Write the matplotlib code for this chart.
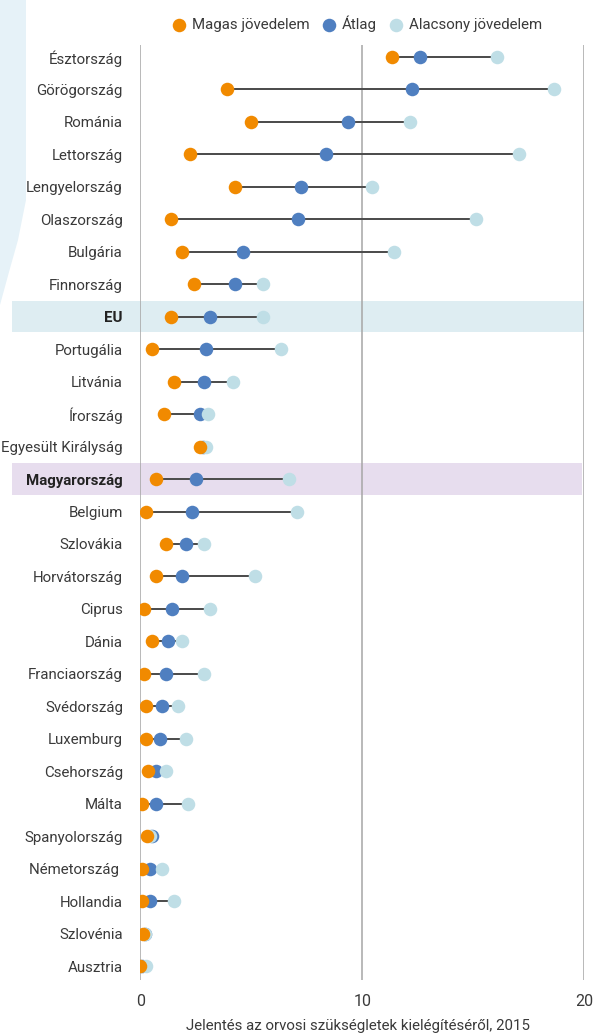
import matplotlib
matplotlib.use("Agg")
import matplotlib.pyplot as plt
import matplotlib.transforms as mtransforms
from matplotlib.patches import Rectangle, Polygon
import numpy as np

plt.rcParams['font.family'] = ['Roboto', 'DejaVu Sans']
plt.rcParams['font.weight'] = 'normal'

countries = ["Észtország", "Görögország", "Románia", "Lettország", "Lengyelország",
             "Olaszország", "Bulgária", "Finnország", "EU", "Portugália", "Litvánia",
             "Írország", "Egyesült Királyság", "Magyarország", "Belgium", "Szlovákia",
             "Horvátország", "Ciprus", "Dánia", "Franciaország", "Svédország",
             "Luxemburg", "Csehország", "Málta", "Spanyolország", "Németország ",
             "Hollandia", "Szlovénia", "Ausztria"]
high = [11.35, 3.89, 4.97, 2.25, 4.25, 1.38, 1.88, 2.43, 1.38, 0.51, 1.52, 1.05, 2.70,
        0.71, 0.24, 1.16, 0.71, 0.15, 0.53, 0.15, 0.24, 0.24, 0.33, 0.06, 0.30, 0.06,
        0.06, 0.12, 0.0]
avg = [12.62, 12.26, 9.35, 8.35, 7.26, 7.12, 4.61, 4.25, 3.16, 2.98, 2.89, 2.70, 2.82,
       2.52, 2.34, 2.07, 1.88, 1.43, 1.25, 1.16, 0.96, 0.87, 0.69, 0.71, 0.51, 0.44,
       0.44, 0.23, 0.08]
low = [16.08, 18.63, 12.17, 17.08, 10.44, 15.13, 11.43, 5.53, 5.53, 6.34, 4.16, 3.07,
       2.95, 6.70, 7.08, 2.89, 5.17, 3.16, 1.88, 2.89, 1.70, 2.06, 1.14, 2.15, 0.45,
       0.96, 1.52, 0.20, 0.24]
xticks = [0, 10, 20]
legend_labels = ["Magas jövedelem", "Átlag", "Alacsony jövedelem"]
xlabel = "Jelentés az orvosi szükségletek kielégítéséről, 2015"
highlight_eu = "EU"
highlight_hu = "Magyarország"

C_HIGH = "#F18A00"
C_AVG = "#4F7FC0"
C_LOW = "#BFDEE6"
TXT = "#3a3a3a"
FS = 10.8

W, H = 598, 1035
fig = plt.figure(figsize=(W / 100, H / 100), dpi=100)

# decorative left shape
deco = Polygon([(0, 1), (26 / W, 1), (26 / W, 1 - 200 / H), (18 / W, 1 - 240 / H),
                (9 / W, 1 - 272 / H), (0, 1 - 305 / H)],
               closed=True, transform=fig.transFigure, facecolor="#E6F2F8",
               edgecolor="none", zorder=0)
fig.patches.append(deco)

left, right = 140.3, 584.3
top, bottom = 45, 980
ax = fig.add_axes([left / W, 1 - bottom / H, (right - left) / W, (bottom - top) / H])
ax.set_facecolor("none")

n = len(countries)
y = np.arange(n)
ax.set_xlim(0, 20)
ax.set_ylim(28.43, -0.37)

trans = mtransforms.blended_transform_factory(ax.transAxes, ax.transData)
for name, col, xr in [(highlight_eu, "#DEEDF2", 584.3), (highlight_hu, "#E7DDEE", 582)]:
    i = countries.index(name)
    x0 = (12 - left) / (right - left)
    x1 = (xr - left) / (right - left)
    ax.add_patch(Rectangle((x0, i - 0.48), x1 - x0, 0.96, transform=trans,
                           facecolor=col, edgecolor="none", clip_on=False, zorder=0))

for xv in xticks:
    ax.axvline(xv, color="#A6A6A6", lw=1.1, zorder=1)

vals = np.array([high, avg, low])
ax.hlines(y, vals.min(axis=0), vals.max(axis=0), color="#4A4A4A", lw=1.4, zorder=2)

ms = 95
ax.scatter(avg, y, s=ms, color=C_AVG, zorder=3, linewidths=0, label=legend_labels[1])
ax.scatter(low, y, s=ms, color=C_LOW, zorder=4, linewidths=0, label=legend_labels[2])
ax.scatter(high, y, s=ms, color=C_HIGH, zorder=5, linewidths=0, label=legend_labels[0])

ax.set_yticks(y)
ax.set_yticklabels(countries, fontsize=FS, color=TXT)
for lab in ax.get_yticklabels():
    if lab.get_text() in (highlight_eu, highlight_hu):
        lab.set_fontweight("bold")
        lab.set_color("#222222")
ax.set_xticks(xticks)
ax.set_xticklabels([str(v) for v in xticks], fontsize=FS + 0.7, color=TXT)
ax.tick_params(axis="both", length=0)
ax.tick_params(axis="y", pad=12.5)
ax.tick_params(axis="x", pad=10)
for s in ax.spines.values():
    s.set_visible(False)

fig.text(358 / W, 1 - 1026 / H, xlabel, ha="center", va="center", fontsize=FS, color=TXT)

h = ax.get_legend_handles_labels()
order = [2, 0, 1]
leg = ax.legend([h[0][k] for k in order], [h[1][k] for k in order], ncol=3,
                loc="center", bbox_to_anchor=(357.5 / W, 1 - 24 / H),
                bbox_transform=fig.transFigure, frameon=False, fontsize=FS,
                handlelength=0.8, handletextpad=0.45, columnspacing=0.9,
                borderpad=0, scatterpoints=1)
for t in leg.get_texts():
    t.set_color(TXT)

fig.savefig("out.png", dpi=100)
